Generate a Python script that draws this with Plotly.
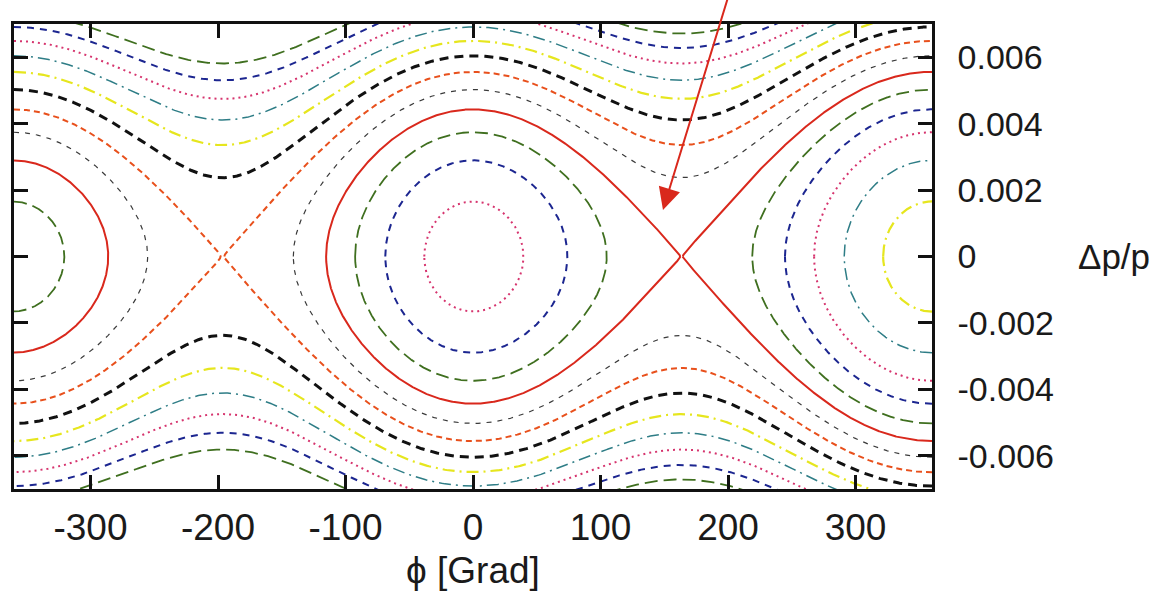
import numpy as np
import plotly.graph_objects as go

# ---------------- values ----------------
phi_range = [-360, 360]                 # φ [Grad]
dp_range = [-0.007, 0.007]              # Δp/p
unstable_phase_deg = 163.5              # X point of the solid red separatrix (the other at -196.5)
separatrix_dp_at_0 = 0.00443            # half height of the central bucket at φ = 0
# contour levels: (Δp/p)^2/2 measured relative to the bottom of the central bucket, units of 1e-6
energy_levels = [-4.26, -1.44, 1.37, 4.19, 7.00, 9.8115, 12.63, 15.446,
                 18.26, 21.07, 23.89, 26.70, 29.52, 32.33]
level_styles = ["yellow", "teal", "magenta", "blue", "green", "red", "gray", "orange",
                "black", "yellow", "teal", "magenta", "blue", "green"]
x_tickvals = [-300, -200, -100, 0, 100, 200, 300]
x_ticktext = ["-300", "-200", "-100", "0", "100", "200", "300"]
y_tickvals = [-0.006, -0.004, -0.002, 0, 0.002, 0.004, 0.006]
y_ticktext = ["-0.006", "-0.004", "-0.002", "0", "0.002", "0.004", "0.006"]
arrow_tip = (149, 0.0014)
arrow_tail = (200, 0.0078)

# ---------------- line styles ----------------
styles = {
    "yellow":  dict(color="#e6e61e", width=2.2, dash="12px,5px,2px,5px"),
    "teal":    dict(color="#2e7d86", width=1.5, dash="12px,5px,2px,5px"),
    "magenta": dict(color="#d6346e", width=2.0, dash="2px,4px"),
    "blue":    dict(color="#1c2690", width=2.0, dash="7px,6px"),
    "green":   dict(color="#3f6f1f", width=1.8, dash="13px,6px"),
    "red":     dict(color="#d9281c", width=2.0, dash="solid"),
    "gray":    dict(color="#3a3a3a", width=1.2, dash="5px,6px"),
    "orange":  dict(color="#e8501c", width=2.0, dash="6px,4px"),
    "black":   dict(color="#111111", width=3.0, dash="9px,6px"),
}

# ---------------- longitudinal Hamiltonian (accelerating bucket) ----------------
phi_s = np.radians((180.0 - unstable_phase_deg) / 2.0)
sep_e = (separatrix_dp_at_0 * 1e3) ** 2 / 2.0
amp = sep_e / (2 * np.cos(phi_s) - (np.pi - 2 * phi_s) * np.sin(phi_s))


def potential(phi_deg):
    p = np.radians(phi_deg)
    return -amp * (np.cos(p + phi_s) + p * np.sin(phi_s) - np.cos(phi_s))


def root(f, a, b):
    fa = f(a)
    for _ in range(60):
        m = 0.5 * (a + b)
        fm = f(m)
        if (fm >= 0) == (fa >= 0):
            a, fa = m, fm
        else:
            b = m
    return 0.5 * (a + b)


grid = np.linspace(phi_range[0], phi_range[1], 72001)
fig = go.Figure()

for H, sty in zip(energy_levels, level_styles):
    f = lambda x, H=H: H - potential(x)
    pos = f(grid) >= 0
    xs, ys = [], []
    idx = np.flatnonzero(pos)
    if idx.size == 0:
        continue
    runs = np.split(idx, np.flatnonzero(np.diff(idx) > 1) + 1)
    for r in runs:
        i0, i1 = r[0], r[-1]
        left_root = i0 > 0
        right_root = i1 < len(grid) - 1
        p1 = root(f, grid[i0 - 1], grid[i0]) if left_root else grid[0]
        p2 = root(f, grid[i1], grid[i1 + 1]) if right_root else grid[-1]
        t = np.linspace(0, np.pi, 900)
        ph = p1 + (p2 - p1) * (1 - np.cos(t)) / 2
        d = np.sqrt(np.clip(2 * f(ph), 0, None)) * 1e-3
        if left_root:
            d[0] = 0.0
        if right_root:
            d[-1] = 0.0
        ux, uy = list(ph), list(d)
        lx, ly = list(ph[::-1]), list(-d[::-1])
        if right_root:
            xs += ux + lx[1:]
            ys += uy + ly[1:]
        else:
            xs += ux + [None] + lx
            ys += uy + [None] + ly
        xs.append(None)
        ys.append(None)
    st = styles[sty]
    fig.add_trace(go.Scatter(x=xs, y=ys, mode="lines", hoverinfo="skip", showlegend=False,
                             line=dict(color=st["color"], width=st["width"], dash=st["dash"])))

axis_common = dict(ticks="inside", ticklen=14, tickwidth=2.5, tickcolor="#111111",
                   showline=True, linewidth=2.5, linecolor="#111111", mirror="allticks",
                   showgrid=False, zeroline=False)

fig.update_layout(
    width=1155, height=592,
    margin=dict(l=14, r=223, t=24, b=103),
    plot_bgcolor="white", paper_bgcolor="white",
    font=dict(family="Liberation Sans, Arial, sans-serif", color="#1a1a1a"),
    xaxis=dict(range=phi_range, tickmode="array", tickvals=x_tickvals, ticktext=x_ticktext,
               tickfont=dict(size=37), ticklabelstandoff=4, **axis_common),
    yaxis=dict(range=dp_range, side="right", tickmode="array", tickvals=y_tickvals,
               ticktext=y_ticktext, tickfont=dict(size=34), ticklabelstandoff=16, **axis_common),
    annotations=[
        dict(text="ϕ [Grad]", x=0, xref="x", y=-0.176, yref="paper", showarrow=False,
             xanchor="center", yanchor="middle", font=dict(size=37)),
        dict(text="Δp/p", x=1.198, xref="paper", y=0, yref="y", showarrow=False,
             xanchor="center", yanchor="middle", font=dict(size=35)),
        dict(text="", x=arrow_tip[0], y=arrow_tip[1], xref="x", yref="y",
             ax=arrow_tail[0], ay=arrow_tail[1], axref="x", ayref="y",
             showarrow=True, arrowhead=2, arrowsize=2.2, arrowwidth=2, arrowcolor="#d9281c"),
    ],
)

fig.write_html("out.html", config={"displayModeBar": False},
               post_script="document.body.style.margin='0px';")
